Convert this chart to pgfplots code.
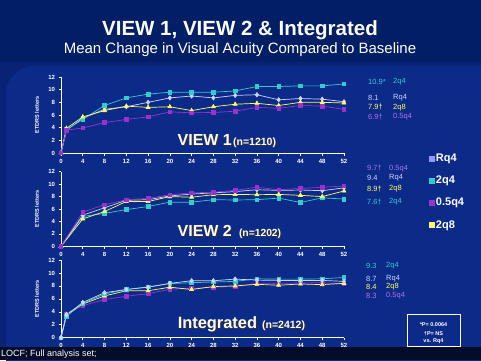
\documentclass[border=0pt]{standalone}
\usepackage{pgfplots}
\pgfplotsset{compat=1.18}
\usepackage{fontspec}
\setmainfont{Liberation Sans}
\definecolor{bgmain}{RGB}{8,34,118}
\definecolor{bgpanel}{RGB}{12,42,136}
\definecolor{bgtop}{RGB}{2,30,100}
\definecolor{bgbot}{RGB}{4,12,42}
\definecolor{crq}{RGB}{210,210,255}
\definecolor{crqleg}{RGB}{150,150,255}
\definecolor{ccy}{RGB}{51,204,204}
\definecolor{cpu}{RGB}{153,51,204}
\definecolor{cpt}{RGB}{175,115,235}
\definecolor{cye}{RGB}{255,255,102}
\pgfplotsset{
 panel/.style={
  scale only axis, width=283pt, anchor=south west,
  xmin=0,xmax=52,ymin=0,ymax=12,
  axis x line=bottom, axis y line=left,
  axis line style={white,line width=0.8pt,-},
  xtick={0,4,...,52}, ytick={0,2,...,12},
  tick style={white,line width=0.6pt}, tick align=outside, major tick length=2.5pt,
  ticklabel style={text=white,font=\bfseries\fontsize{6}{6}\selectfont},
  /pgf/number format/assume math mode=true,
  ylabel={ETDRS letters},
  every axis y label/.style={at={(axis description cs:-0.085,0.5)},rotate=90,anchor=center,text=white,font=\bfseries\fontsize{5.5}{6}\selectfont},
  clip=false,
  every axis plot/.append style={line width=0.7pt, mark size=1.8pt},
 },
 rq/.style={color=crq, mark=diamond*, mark size=2.1pt},
 cy/.style={color=ccy, mark=square*},
 ye/.style={color=cye, mark=triangle*, mark size=2.2pt},
 pu/.style={color=cpu, mark=square*},
}
\newcommand{\rl}[1]{\fontsize{7.5}{8}\selectfont #1}
\newcommand{\shadowtext}[4]{% x, y, font, text
  \node[anchor=base west,inner sep=0pt,text=black!80] at (#1pt+1.2pt,-#2pt-1.2pt) {#3 #4};
  \node[anchor=base west,inner sep=0pt,text=white] at (#1pt,-#2pt) {#3 #4};}
\begin{document}
\begin{tikzpicture}
\useasboundingbox (0,0) rectangle (481pt,-360pt);
\fill[bgmain] (0,0) rectangle (481pt,-360pt);
\fill[bgpanel,rounded corners=28pt] (6pt,-66pt) rectangle (520pt,-400pt);
\fill[bgtop] (0,0) rectangle (481pt,-62pt);
\fill[bgbot] (0,-347pt) rectangle (481pt,-360pt);
% title
\node[anchor=base,text=white,font=\bfseries\fontsize{20.5}{22}\selectfont,inner sep=0pt] at (240pt,-35pt) {VIEW 1, VIEW 2 \& Integrated};
\node[anchor=base,text=white,font=\fontsize{15}{16}\selectfont,inner sep=0pt] at (240pt,-53.3pt) {Mean Change in Visual Acuity Compared to Baseline};

% ---------- VIEW 1
\begin{axis}[panel, at={(61pt,-153pt)}, height=76pt]
\addplot[rq] coordinates {(0,0)(1,3.6)(4,5.5)(8,6.9)(12,7.3)(16,8.0)(20,8.7)(24,9.0)(28,8.7)(32,9.1)(36,9.2)(40,8.4)(44,8.6)(48,8.5)(52,8.1)};
\addplot[cy] coordinates {(0,0)(1,3.7)(4,5.3)(8,7.5)(12,8.7)(16,9.3)(20,9.6)(24,9.6)(28,9.6)(32,9.8)(36,10.5)(40,10.5)(44,10.6)(48,10.6)(52,10.9)};
\addplot[ye] coordinates {(0,0)(1,3.9)(4,5.7)(8,6.7)(12,7.4)(16,7.2)(20,7.3)(24,6.7)(28,7.3)(32,7.7)(36,7.85)(40,7.5)(44,8.0)(48,8.0)(52,7.9)};
\addplot[pu] coordinates {(0,0)(1,3.6)(4,3.95)(8,4.8)(12,5.3)(16,5.7)(20,6.5)(24,6.35)(28,6.4)(32,6.6)(36,7.2)(40,7.05)(44,7.5)(48,7.4)(52,6.9)};
\end{axis}

% ---------- VIEW 2
\begin{axis}[panel, at={(61pt,-246.3pt)}, height=74.6pt,
  legend style={at={(axis description cs:1.302,1.26)}, anchor=north west, draw=none, fill=none, text=white,
    font=\bfseries\fontsize{11}{11}\selectfont, row sep=10pt, inner sep=0pt, nodes={inner sep=1.5pt}},
  legend cell align=left,
  legend image code/.code={\draw[#1] plot coordinates {(0.1cm,0cm)};}]
\addlegendimage{only marks, mark=square*, color=crqleg, mark size=2.4pt}
\addlegendentry{Rq4}
\addlegendimage{only marks, mark=square*, color=ccy, mark size=2.4pt}
\addlegendentry{2q4}
\addlegendimage{only marks, mark=square*, color=cpu, mark size=2.4pt}
\addlegendentry{0.5q4}
\addlegendimage{only marks, mark=square*, color=cye, mark size=2.4pt}
\addlegendentry{2q8}
\addplot[cy,forget plot] coordinates {(0,0)(4,4.8)(8,5.3)(12,5.9)(16,6.4)(20,7.1)(24,7.1)(28,7.5)(32,7.45)(36,7.5)(40,7.75)(44,7.05)(48,7.8)(52,7.6)};
\addplot[ye,forget plot] coordinates {(0,0)(4,4.4)(8,5.6)(12,7.2)(16,7.2)(20,8.0)(24,7.9)(28,8.3)(32,8.35)(36,8.3)(40,8.35)(44,8.2)(48,8.0)(52,8.9)};
\addplot[rq,forget plot] coordinates {(0,0)(4,5.0)(8,6.2)(12,7.4)(16,7.5)(20,8.1)(24,8.4)(28,8.6)(32,8.8)(36,9.1)(40,9.0)(44,9.05)(48,8.95)(52,9.4)};
\addplot[pu,forget plot] coordinates {(0,0)(4,5.5)(8,6.7)(12,7.5)(16,7.7)(20,8.3)(24,8.6)(28,8.7)(32,9.0)(36,9.5)(40,9.1)(44,9.3)(48,9.5)(52,9.7)};
\end{axis}

% ---------- Integrated
\begin{axis}[panel, at={(61pt,-337.7pt)}, height=77.7pt]
\addplot[pu] coordinates {(0,0)(1,3.7)(4,4.95)(8,5.9)(12,6.4)(16,6.8)(20,7.5)(24,7.6)(28,7.8)(32,7.9)(36,8.4)(40,8.4)(44,8.45)(48,8.5)(52,8.3)};
\addplot[ye] coordinates {(0,0)(1,3.6)(4,5.2)(8,6.45)(12,7.25)(16,7.25)(20,7.8)(24,7.45)(28,7.9)(32,8.0)(36,8.25)(40,8.1)(44,8.3)(48,8.2)(52,8.4)};
\addplot[cy] coordinates {(0,0)(1,3.3)(4,5.3)(8,6.75)(12,7.45)(16,7.85)(20,8.35)(24,8.5)(28,8.6)(32,8.7)(36,9.1)(40,9.05)(44,9.05)(48,9.1)(52,9.3)};
\addplot[rq] coordinates {(0,0)(1,3.5)(4,5.45)(8,6.95)(12,7.45)(16,7.8)(20,8.4)(24,8.8)(28,8.8)(32,9.05)(36,8.9)(40,8.85)(44,8.85)(48,8.85)(52,8.7)};
\end{axis}

% panel labels
\shadowtext{173}{145}{\bfseries\fontsize{16}{17}\selectfont}{VIEW 1}
\shadowtext{230}{145}{\bfseries\fontsize{10.5}{11}\selectfont}{(n=1210)}
\shadowtext{173}{236.5}{\bfseries\fontsize{16}{17}\selectfont}{VIEW 2}
\shadowtext{236}{236.5}{\bfseries\fontsize{10.3}{11}\selectfont}{(n=1202)}
\shadowtext{173}{328}{\bfseries\fontsize{16.4}{17}\selectfont}{Integrated}
\shadowtext{259}{328}{\bfseries\fontsize{10.5}{11}\selectfont}{(n=2412)}

% end-of-study labels
\begin{scope}[every node/.style={anchor=west,inner sep=0pt}]
\node[text=ccy] at (368pt,-82pt) {\rl{10.9*}}; \node[text=ccy] at (393pt,-82pt) {\rl{2q4}};
\node[text=crq] at (368pt,-98pt) {\rl{8.1}}; \node[text=crq] at (393pt,-98pt) {\rl{Rq4}};
\node[text=cye] at (368pt,-107.5pt) {\rl{7.9†}}; \node[text=cye] at (393pt,-107.5pt) {\rl{2q8}};
\node[text=cpt] at (368pt,-117pt) {\rl{6.9†}}; \node[text=cpt] at (393pt,-117pt) {\rl{0.5q4}};

\node[text=cpt] at (367pt,-168.5pt) {\rl{9.7†}}; \node[text=cpt] at (389pt,-168.5pt) {\rl{0.5q4}};
\node[text=crq] at (367pt,-178pt) {\rl{9.4}}; \node[text=crq] at (389pt,-178pt) {\rl{Rq4}};
\node[text=cye] at (367pt,-189pt) {\rl{8.9†}}; \node[text=cye] at (389pt,-189pt) {\rl{2q8}};
\node[text=ccy] at (367pt,-202pt) {\rl{7.6†}}; \node[text=ccy] at (389pt,-202pt) {\rl{2q4}};

\node[text=ccy] at (366pt,-266pt) {\rl{9.3}}; \node[text=ccy] at (386pt,-266pt) {\rl{2q4}};
\node[text=crq] at (366pt,-278.5pt) {\rl{8.7}}; \node[text=crq] at (386pt,-278.5pt) {\rl{Rq4}};
\node[text=cye] at (366pt,-286.5pt) {\rl{8.4}}; \node[text=cye] at (386pt,-286.5pt) {\rl{2q8}};
\node[text=cpt] at (366pt,-296pt) {\rl{8.3}}; \node[text=cpt] at (386pt,-296pt) {\rl{0.5q4}};
\end{scope}

% p-value box
\draw[white,line width=0.8pt] (407pt,-314.5pt) rectangle (460pt,-346pt);
\begin{scope}[every node/.style={anchor=center,inner sep=0pt,text=white,font=\bfseries\fontsize{5.5}{6}\selectfont}]
\node at (433.5pt,-325pt) {*P= 0.0064};
\node at (433.5pt,-333.5pt) {†P= NS};
\node at (433.5pt,-341pt) {vs. Rq4};
\end{scope}

% footnote
\node[anchor=base west,inner sep=0pt,text=white,font=\fontsize{9}{10}\selectfont] at (1pt,-356.5pt) {LOCF; Full analysis set;};
\end{tikzpicture}
\end{document}
